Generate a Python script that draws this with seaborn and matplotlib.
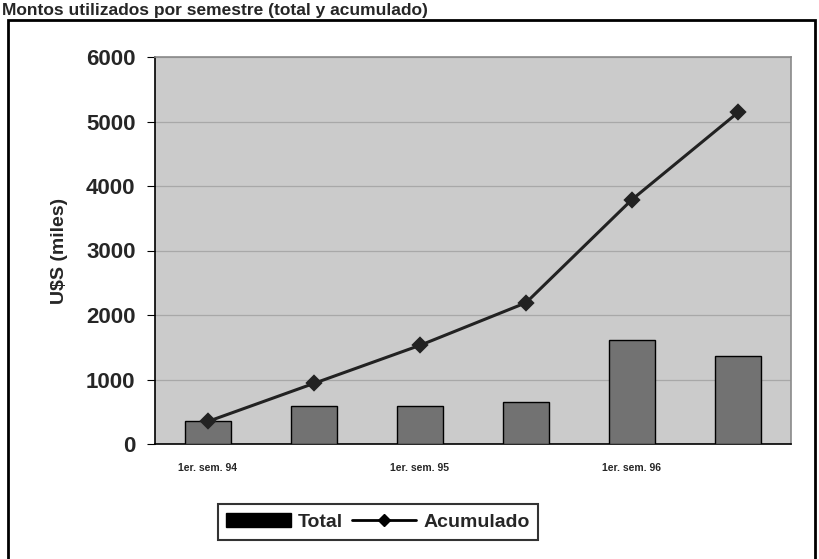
import numpy as np
import pandas as pd
import matplotlib
matplotlib.use('Agg')
import matplotlib.pyplot as plt
import seaborn as sns
from matplotlib.patches import Rectangle, Patch
from matplotlib.lines import Line2D
from matplotlib.ticker import FixedLocator

semestres = ["1er. sem. 94", "2do. sem. 94", "1er. sem. 95",
             "2do. sem. 95", "1er. sem. 96", "2do. sem. 96"]
total = [350, 590, 590, 650, 1610, 1365]
acumulado = [350, 940, 1530, 2190, 3790, 5140]
tick_labels = ["1er. sem. 94", "", "1er. sem. 95", "", "1er. sem. 96", ""]

df = pd.DataFrame({"semestre": semestres, "Total": total, "Acumulado": acumulado})

sns.set_style("white")
plt.rcParams['font.family'] = ['Liberation Sans', 'DejaVu Sans']

fig = plt.figure(figsize=(8.19, 5.59), dpi=100)
ax = fig.add_axes([155 / 819, 1 - 444 / 559, 636 / 819, 387 / 559])
ax.set_facecolor('#cbcbcb')

sns.barplot(data=df, x="semestre", y="Total", color='#727272', width=0.43,
            edgecolor='black', linewidth=1.0, saturation=1, ax=ax, zorder=3)
sns.pointplot(data=df, x="semestre", y="Acumulado", color='#222222',
              markers='D', markersize=7, linewidth=2.2, ax=ax, zorder=4)

ax.set_ylim(0, 6000)
ax.set_xlim(-0.5, 5.5)
ax.set_yticks(np.arange(0, 6001, 1000))
ax.yaxis.grid(True, color='#a8a8a8', linewidth=0.9, zorder=0)
ax.set_axisbelow(True)

ax.set_xticks(range(len(semestres)))
ax.set_xticklabels(tick_labels, fontsize=7.5, fontweight='bold')
ax.xaxis.set_minor_locator(FixedLocator(np.arange(-0.5, 6, 1)))
ax.tick_params(axis='x', which='major', length=0, pad=14)
ax.tick_params(axis='x', which='minor', length=5, direction='inout', color='black')
ax.tick_params(axis='y', length=6, direction='out', color='black', labelsize=16,
               left=True, pad=8)
for lbl in ax.get_yticklabels():
    lbl.set_fontweight('bold')

ax.set_xlabel("")
ax.set_ylabel("U$S (miles)", fontsize=14, fontweight='bold', labelpad=13)

for side in ['left', 'bottom']:
    ax.spines[side].set_color('black')
    ax.spines[side].set_linewidth(1.2)
for side in ['top', 'right']:
    ax.spines[side].set_color('#8a8a8a')
    ax.spines[side].set_linewidth(1.2)

handles = [Patch(facecolor='black', edgecolor='black', label='Total'),
           Line2D([0], [0], color='black', marker='D', markersize=6,
                  linewidth=2, label='Acumulado')]
leg = fig.legend(handles=handles, loc='center', bbox_to_anchor=(378 / 819, 1 - 522 / 559),
                 ncol=2, frameon=True, fancybox=False, edgecolor='black',
                 prop={'size': 14, 'weight': 'bold'}, handlelength=3.3,
                 columnspacing=0.5, handletextpad=0.35, borderpad=0.45)
leg.get_frame().set_linewidth(1.5)

fig.patches.append(Rectangle((8 / 819, -0.05), 807 / 819, 1.05 - 20 / 559,
                             transform=fig.transFigure, fill=False,
                             edgecolor='black', linewidth=2))
fig.text(0.003, 1 - 18 / 559, "Montos utilizados por semestre (total y acumulado)",
         fontsize=12.5, fontweight='bold', va='bottom', ha='left')

fig.savefig("out.png", dpi=100)
